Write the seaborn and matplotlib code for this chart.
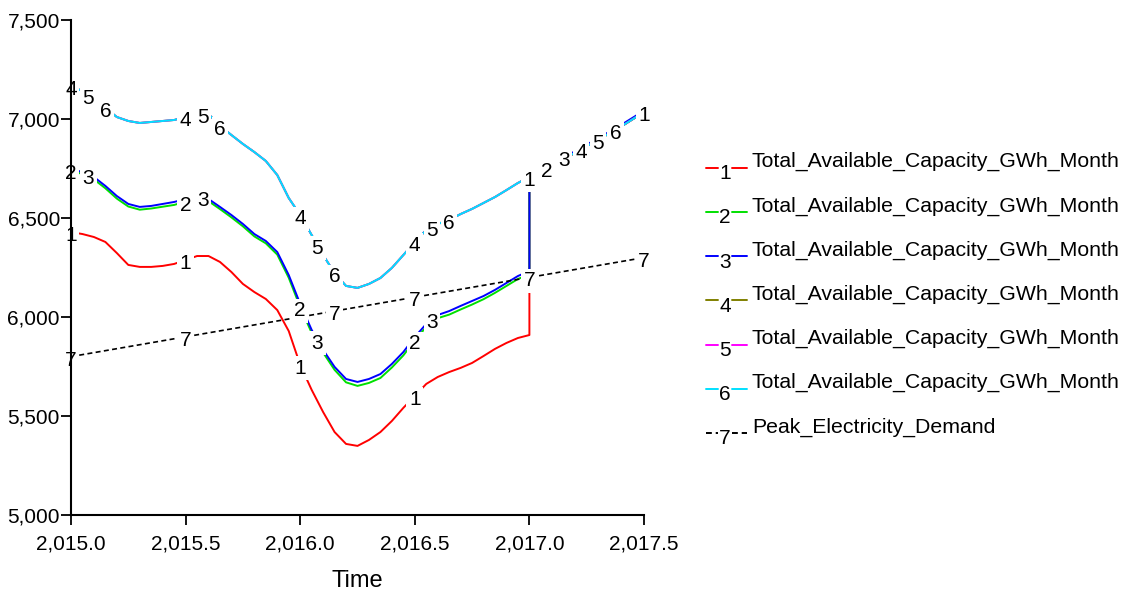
import numpy as np
import matplotlib
matplotlib.use("Agg")
import matplotlib.pyplot as plt
import seaborn as sns
from matplotlib.ticker import FuncFormatter, MultipleLocator

sns.set_theme(style="white")
plt.rcParams['font.family'] = ['Liberation Sans', 'DejaVu Sans']

# ---- data -------------------------------------------------------------
# simulation time before the 2017 switch (every 0.05 year) and after it
time_before = np.linspace(2015.0, 2017.0, 41)
time_after = [2017.0, 2017.1, 2017.2, 2017.3, 2017.4, 2017.5]

capacity_run1 = [6429, 6419, 6404, 6379, 6323, 6263, 6253, 6253, 6258, 6268,
                 6288, 6308, 6308, 6278, 6227, 6167, 6126, 6091, 6035, 5929,
                 5758, 5632, 5520, 5419, 5359, 5349, 5379, 5419, 5475, 5541,
                 5601, 5662, 5697, 5722, 5743, 5768, 5803, 5839, 5869, 5894,
                 5909]
capacity_run2 = [6740, 6722, 6695, 6650, 6598, 6558, 6542, 6548, 6557, 6566,
                 6583, 6605, 6585, 6545, 6503, 6458, 6407, 6372, 6315, 6198,
                 6050, 5920, 5820, 5733, 5670, 5652, 5667, 5692, 5745, 5806,
                 5882, 5950, 5994, 6012, 6038, 6063, 6090, 6122, 6157, 6192,
                 6215]
capacity_run3 = [6748, 6732, 6707, 6662, 6611, 6571, 6556, 6561, 6571, 6581,
                 6596, 6616, 6596, 6556, 6515, 6470, 6419, 6384, 6328, 6212,
                 6066, 5935, 5834, 5748, 5687, 5672, 5687, 5712, 5763, 5823,
                 5899, 5965, 6010, 6030, 6056, 6081, 6106, 6137, 6172, 6207,
                 6232]
capacity_run456 = [7167, 7141, 7106, 7056, 7010, 6990, 6980, 6985, 6990, 6995,
                   7010, 7030, 7025, 6965, 6919, 6874, 6833, 6788, 6717, 6601,
                   6515, 6414, 6313, 6222, 6157, 6147, 6167, 6197, 6248, 6313,
                   6379, 6440, 6470, 6490, 6520, 6546, 6576, 6606, 6641, 6677,
                   6707]
# all runs share the same path once the switch happens
capacity_after = [6707, 6765, 6830, 6895, 6962, 7035]
capacity_after_run3 = [6715, 6773, 6838, 6903, 6970, 7042]

demand_time = [2015.0, 2015.5, 2016.0, 2016.5, 2017.0, 2017.5]
peak_demand = [5800, 5900, 6000, 6100, 6200, 6300]

legend_labels = ["Total_Available_Capacity_GWh_Month"] * 6 + ["Peak_Electricity_Demand"]
colors = ["#ff0000", "#00e000", "#0000ff", "#808000", "#ff00ff", "#00e0ff", "black"]

# where each run's number tag sits along its curve
tag_times = {
    1: [2015.0, 2015.5, 2016.0, 2016.5, 2017.0, 2017.5],
    2: [2015.0, 2015.5, 2016.0, 2016.5, 2017.075],
    3: [2015.075, 2015.575, 2016.075, 2016.575, 2017.15],
    4: [2015.0, 2015.5, 2016.0, 2016.5, 2017.225],
    5: [2015.075, 2015.575, 2016.075, 2016.575, 2017.3],
    6: [2015.15, 2015.65, 2016.15, 2016.65, 2017.375],
    7: [2015.0, 2015.5, 2016.15, 2016.5, 2017.0, 2017.5],
}

runs = {
    1: (capacity_run1, capacity_after),
    2: (capacity_run2, capacity_after),
    3: (capacity_run3, capacity_after_run3),
    4: (capacity_run456, capacity_after),
    5: (capacity_run456, capacity_after),
    6: (capacity_run456, capacity_after),
}

# ---- figure -----------------------------------------------------------
W, H = 1127, 590
fig = plt.figure(figsize=(W / 100, H / 100), dpi=100)
ax = fig.add_axes([71 / W, 1 - 515 / H, (644 - 71) / W, (515 - 20) / H])


def value_at(t, before, after):
    if t >= 2017.0:
        return np.interp(t, time_after, after)
    return np.interp(t, time_before, before)


tag_box = dict(boxstyle="square,pad=0.12", fc="white", ec="none")

for k, (before, after) in runs.items():
    t = np.concatenate([time_before, time_after])
    v = np.concatenate([before, after])
    sns.lineplot(x=t, y=v, estimator=None, sort=False, color=colors[k - 1],
                 lw=1.4, ax=ax, legend=False, zorder=2)

sns.lineplot(x=demand_time, y=peak_demand, estimator=None, sort=False,
             color="black", lw=1.2, ax=ax, legend=False, zorder=2,
             linestyle=(0, (3, 2)))

for k, times in tag_times.items():
    for t in times:
        if k == 7:
            val = np.interp(t, demand_time, peak_demand)
        else:
            val = value_at(t, *runs[k])
        ax.annotate(str(k), (t, val), xytext=(0, -2.5), textcoords="offset points",
                    ha="center", va="center", fontsize=15, color="black",
                    bbox=tag_box, zorder=3 + k * 0.01, annotation_clip=False)

ax.set_xlim(2015.0, 2017.5)
ax.set_ylim(5000, 7500)
ax.xaxis.set_major_locator(MultipleLocator(0.5))
ax.yaxis.set_major_locator(MultipleLocator(500))
ax.xaxis.set_major_formatter(FuncFormatter(lambda x, _: f"{x:,.1f}"))
ax.yaxis.set_major_formatter(FuncFormatter(lambda y, _: f"{y:,.0f}"))

for side in ["top", "right"]:
    ax.spines[side].set_visible(False)
for side in ["left", "bottom"]:
    ax.spines[side].set_color("black")
    ax.spines[side].set_linewidth(1.5)
    ax.spines[side].set_zorder(4)

ax.tick_params(axis="both", direction="out", length=7, width=1.3,
               colors="black", labelsize=15, left=True, bottom=True)
ax.tick_params(axis="y", pad=1)
ax.tick_params(axis="x", pad=7)
ax.set_xlabel("Time", fontsize=17, color="black", labelpad=12)
ax.set_ylabel("")
ax.grid(False)
ax.set_facecolor("white")

# ---- legend: line with run number, then series name -------------------
lg = fig.add_axes([0, 0, 1, 1], facecolor="none")
lg.set_xlim(0, W)
lg.set_ylim(H, 0)
lg.axis("off")
for i, (label, c) in enumerate(zip(legend_labels, colors)):
    y0 = 167.7 + 44.2 * i
    style = (0, (3, 2)) if i == 6 else "-"
    lg.plot([706, 718], [y0, y0], color=c, lw=1.4, linestyle=style)
    lg.plot([732, 747], [y0, y0], color=c, lw=1.4, linestyle=style)
    lg.text(725, y0 + 6, str(i + 1), ha="center", va="center", fontsize=15,
            color="black")
    lg.text(752, y0 - 6, label, ha="left", va="center", fontsize=15.3,
            color="black")

fig.savefig("out.png", dpi=100, facecolor="white")
